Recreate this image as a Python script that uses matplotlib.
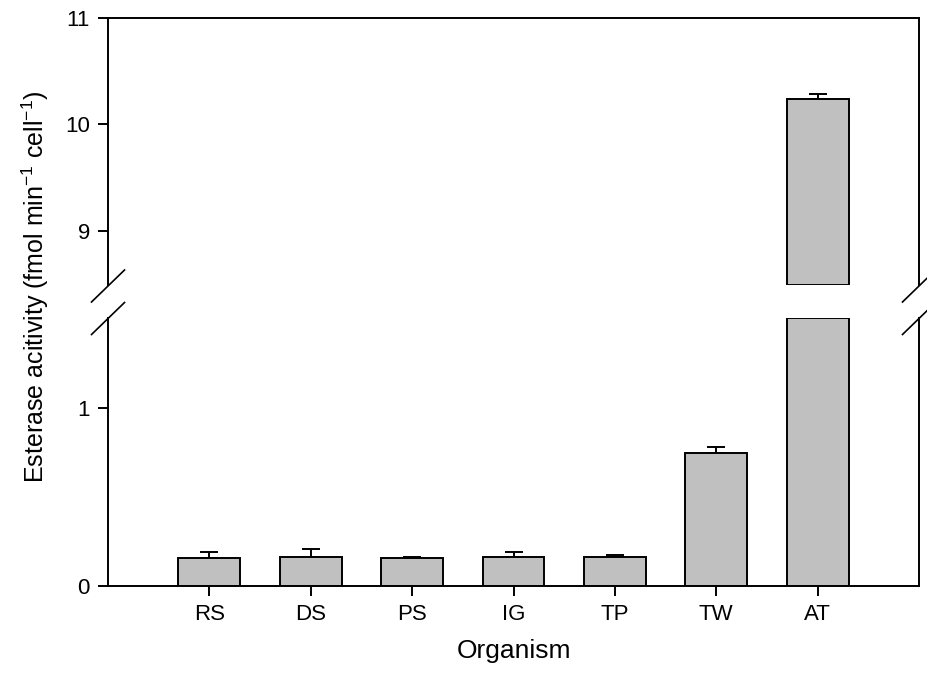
import numpy as np
import matplotlib
matplotlib.use('Agg')
import matplotlib.pyplot as plt

# data
organisms = ['RS', 'DS', 'PS', 'IG', 'TP', 'TW', 'AT']
activity = [0.157, 0.161, 0.157, 0.161, 0.161, 0.745, 10.24]
errors = [0.034, 0.049, 0.004, 0.028, 0.012, 0.034, 0.046]

bottom_lim = (0, 1.506)
top_lim = (8.49, 11)
bottom_ticks = [0, 1]
top_ticks = [9, 10, 11]

plt.rcParams['font.family'] = ['Liberation Sans', 'DejaVu Sans']
plt.rcParams['mathtext.default'] = 'regular'

fig = plt.figure(figsize=(9.28, 6.8), dpi=100)
left, right = 0.1164, 0.9903
ax_bot = fig.add_axes([left, 0.1382, right - left, 0.5324 - 0.1382])
ax_top = fig.add_axes([left, 0.5809, right - left, 0.9735 - 0.5809])

x = np.arange(len(organisms))
vals = np.array(activity)
errs = np.array(errors)
bar_kw = dict(width=0.61, color='#c0c0c0', edgecolor='black', linewidth=1.4, zorder=2)
err_kw = dict(fmt='none', ecolor='black', elinewidth=1.4, capsize=6.5, capthick=1.4, zorder=1)

# lower panel
ax_bot.bar(x, np.minimum(vals, bottom_lim[1]), **bar_kw)
low = vals < bottom_lim[1]
ax_bot.errorbar(x[low], vals[low], yerr=[np.zeros(low.sum()), errs[low]], **err_kw)

# upper panel
high = vals > top_lim[0]
ax_top.bar(x[high], vals[high] - top_lim[0], bottom=top_lim[0], **bar_kw)
ax_top.errorbar(x[high], vals[high], yerr=[np.zeros(high.sum()), errs[high]], **err_kw)

for ax in (ax_bot, ax_top):
    ax.set_xlim(-1, 7)
    for s in ax.spines.values():
        s.set_linewidth(1.4)
    ax.tick_params(direction='out', length=7, width=1.4, labelsize=16, pad=6)

ax_bot.set_ylim(*bottom_lim)
ax_bot.set_yticks(bottom_ticks)
ax_bot.set_xticks(x)
ax_bot.set_xticklabels(organisms)
ax_bot.spines['top'].set_visible(False)
ax_bot.set_xlabel('Organism', fontsize=19, labelpad=10)

ax_top.set_ylim(*top_lim)
ax_top.set_yticks(top_ticks)
ax_top.set_xticks([])
ax_top.spines['bottom'].set_visible(False)

# break marks
W, H = fig.get_size_inches() * fig.dpi
dx, dy = 16.5 / W, 16 / H
for yb in (1 - 286 / H, 1 - 318.5 / H):
    for xb in (left, right):
        fig.add_artist(plt.Line2D([xb - dx, xb + dx], [yb - dy, yb + dy],
                                  color='black', linewidth=1.2, transform=fig.transFigure))

fig.text(0.038, 0.578, 'Esterase acitivity (fmol min$^{-1}$ cell$^{-1}$)',
         rotation=90, ha='center', va='center', fontsize=18)

fig.savefig('out.png', dpi=100)
